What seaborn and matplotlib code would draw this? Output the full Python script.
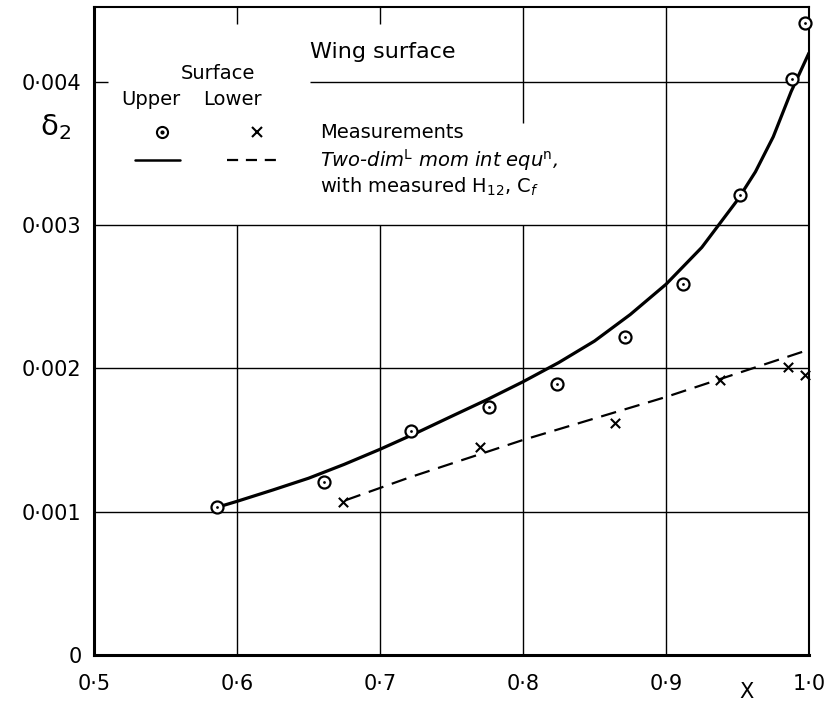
import matplotlib
matplotlib.use("Agg")
import matplotlib.pyplot as plt
import pandas as pd
import seaborn as sns

# measured momentum thickness, upper surface (circles)
upper_x = [0.586, 0.661, 0.722, 0.776, 0.824, 0.871, 0.912, 0.952, 0.988, 0.997]
upper_d2 = [0.00103, 0.00121, 0.00156, 0.00173, 0.00189, 0.00222, 0.00259, 0.00321, 0.00402, 0.00441]

# measured, lower surface (crosses)
lower_x = [0.674, 0.770, 0.864, 0.938, 0.985, 0.997]
lower_d2 = [0.00107, 0.00145, 0.00162, 0.00192, 0.00201, 0.00195]

# two-dim mom. int. equation, upper surface (solid)
calc_upper_x = [0.586, 0.600, 0.625, 0.650, 0.675, 0.700, 0.725, 0.750, 0.775, 0.800,
                0.825, 0.850, 0.875, 0.900, 0.925, 0.950, 0.9625, 0.975, 0.9875, 1.000]
calc_upper_d2 = [0.00103, 0.001072, 0.001151, 0.001233, 0.00133, 0.001435, 0.001547, 0.001665,
                 0.001782, 0.001906, 0.00204, 0.00219, 0.002375, 0.002586, 0.002843, 0.003174,
                 0.00337, 0.003615, 0.00393, 0.0042]

# two-dim mom. int. equation, lower surface (dashed)
calc_lower_x = [0.676, 0.721, 0.800, 0.900, 1.000]
calc_lower_d2 = [0.00108, 0.00124, 0.00150, 0.00180, 0.00213]

x_ticks = [0.5, 0.6, 0.7, 0.8, 0.9, 1.0]
x_ticklabels = ["0·5", "0·6", "0·7", "0·8", "0·9", "1·0"]
y_ticks = [0, 0.001, 0.002, 0.003, 0.004]
y_ticklabels = ["0", "0·001", "0·002", "0·003", "0·004"]

up_meas = pd.DataFrame({"X": upper_x, "d2": upper_d2})
lo_meas = pd.DataFrame({"X": lower_x, "d2": lower_d2})
up_calc = pd.DataFrame({"X": calc_upper_x, "d2": calc_upper_d2})
lo_calc = pd.DataFrame({"X": calc_lower_x, "d2": calc_lower_d2})

sns.set_style("white")
plt.rcParams["font.family"] = ["DejaVu Sans"]
plt.rcParams["mathtext.fontset"] = "dejavusans"
plt.rcParams["text.color"] = "black"
plt.rcParams["axes.labelcolor"] = "black"

fig = plt.figure(figsize=(8.29, 7.06), dpi=100)
ax = fig.add_axes([0.1134, 0.0722, 0.8625, 0.9179])

ax.set_xlim(0.5, 1.0)
ax.set_ylim(0, 0.00452)

# grid, broken where the key sits
gk = dict(color="black", lw=1.0, zorder=1)
ax.vlines([0.6, 0.7, 0.8, 0.9], 0, 0.003, **gk)
ax.vlines([0.6, 0.7], 0.00440, 0.00452, **gk)
ax.vlines(0.8, 0.00371, 0.00452, **gk)
ax.vlines(0.9, 0.003, 0.00452, **gk)
ax.hlines([0.001, 0.002, 0.003], 0.5, 1.0, **gk)
ax.hlines(0.004, 0.5, 0.51, **gk)
ax.hlines(0.004, 0.651, 1.0, **gk)

# curves
sns.lineplot(data=up_calc, x="X", y="d2", ax=ax, color="black", lw=2.3, sort=False, zorder=3)
sns.lineplot(data=lo_calc, x="X", y="d2", ax=ax, color="black", lw=1.6, sort=False,
             dashes=False, zorder=3).lines[-1].set_dashes((7, 4))

# measurements
sns.scatterplot(data=up_meas, x="X", y="d2", ax=ax, marker="o", s=75, facecolor="white",
                edgecolor="black", linewidth=1.6, zorder=4, clip_on=False)
sns.scatterplot(data=up_meas, x="X", y="d2", ax=ax, marker="o", s=4, color="black",
                linewidth=0, zorder=5, clip_on=False)
sns.scatterplot(data=lo_meas, x="X", y="d2", ax=ax, marker="x", s=45, color="black",
                linewidth=1.5, zorder=4, clip_on=False)

# key
T = ax.transAxes
ax.text(0.302, 0.9306, "Wing surface", transform=T, fontsize=16, va="center", ha="left")
ax.text(0.173, 0.8966, "Surface", transform=T, fontsize=14, va="center", ha="center")
ax.text(0.080, 0.8565, "Upper", transform=T, fontsize=14, va="center", ha="center")
ax.text(0.193, 0.8565, "Lower", transform=T, fontsize=14, va="center", ha="center")
ax.plot([0.095], [0.807], transform=T, marker="o", ms=8, mfc="white", mec="black", mew=1.5, ls="none")
ax.plot([0.095], [0.807], transform=T, marker="o", ms=2, color="black", ls="none")
ax.plot([0.228], [0.807], transform=T, marker="x", ms=6.5, color="black", mew=1.5, ls="none")
ax.plot([0.057, 0.120], [0.764, 0.764], transform=T, color="black", lw=1.8)
ax.plot([0.186, 0.257], [0.764, 0.764], transform=T, color="black", lw=1.6, dashes=(5, 3.5))
ax.text(0.316, 0.807, "Measurements", transform=T, fontsize=14, va="center", ha="left")
ax.text(0.316, 0.764, r"Two-dim$^{\mathrm{L}}$ mom int equ$^{\mathrm{n}}$,", transform=T,
        fontsize=14, va="center", ha="left", style="italic")
ax.text(0.316, 0.722, r"with measured H$_{12}$, C$_{f}$", transform=T, fontsize=14,
        va="center", ha="left")

# axes styling
ax.grid(False)
for side in ["left", "bottom"]:
    ax.spines[side].set_linewidth(2.2)
for side in ["top", "right"]:
    ax.spines[side].set_linewidth(1.5)
for sp in ax.spines.values():
    sp.set_color("black")

ax.set_xticks(x_ticks)
ax.set_xticklabels(x_ticklabels)
ax.set_yticks(y_ticks)
ax.set_yticklabels(y_ticklabels)
ax.tick_params(axis="both", length=0, labelsize=15, colors="black")
ax.tick_params(axis="x", pad=14)
ax.tick_params(axis="y", pad=9)

ax.set_xlabel("X", fontsize=15, rotation=0, va="center")
ax.xaxis.set_label_coords(0.913, -0.057)
ax.set_ylabel("δ$_2$", fontsize=21, rotation=0, va="center", ha="center")
ax.yaxis.set_label_coords(-0.0545, 0.815)

fig.savefig("out.png", dpi=100)
